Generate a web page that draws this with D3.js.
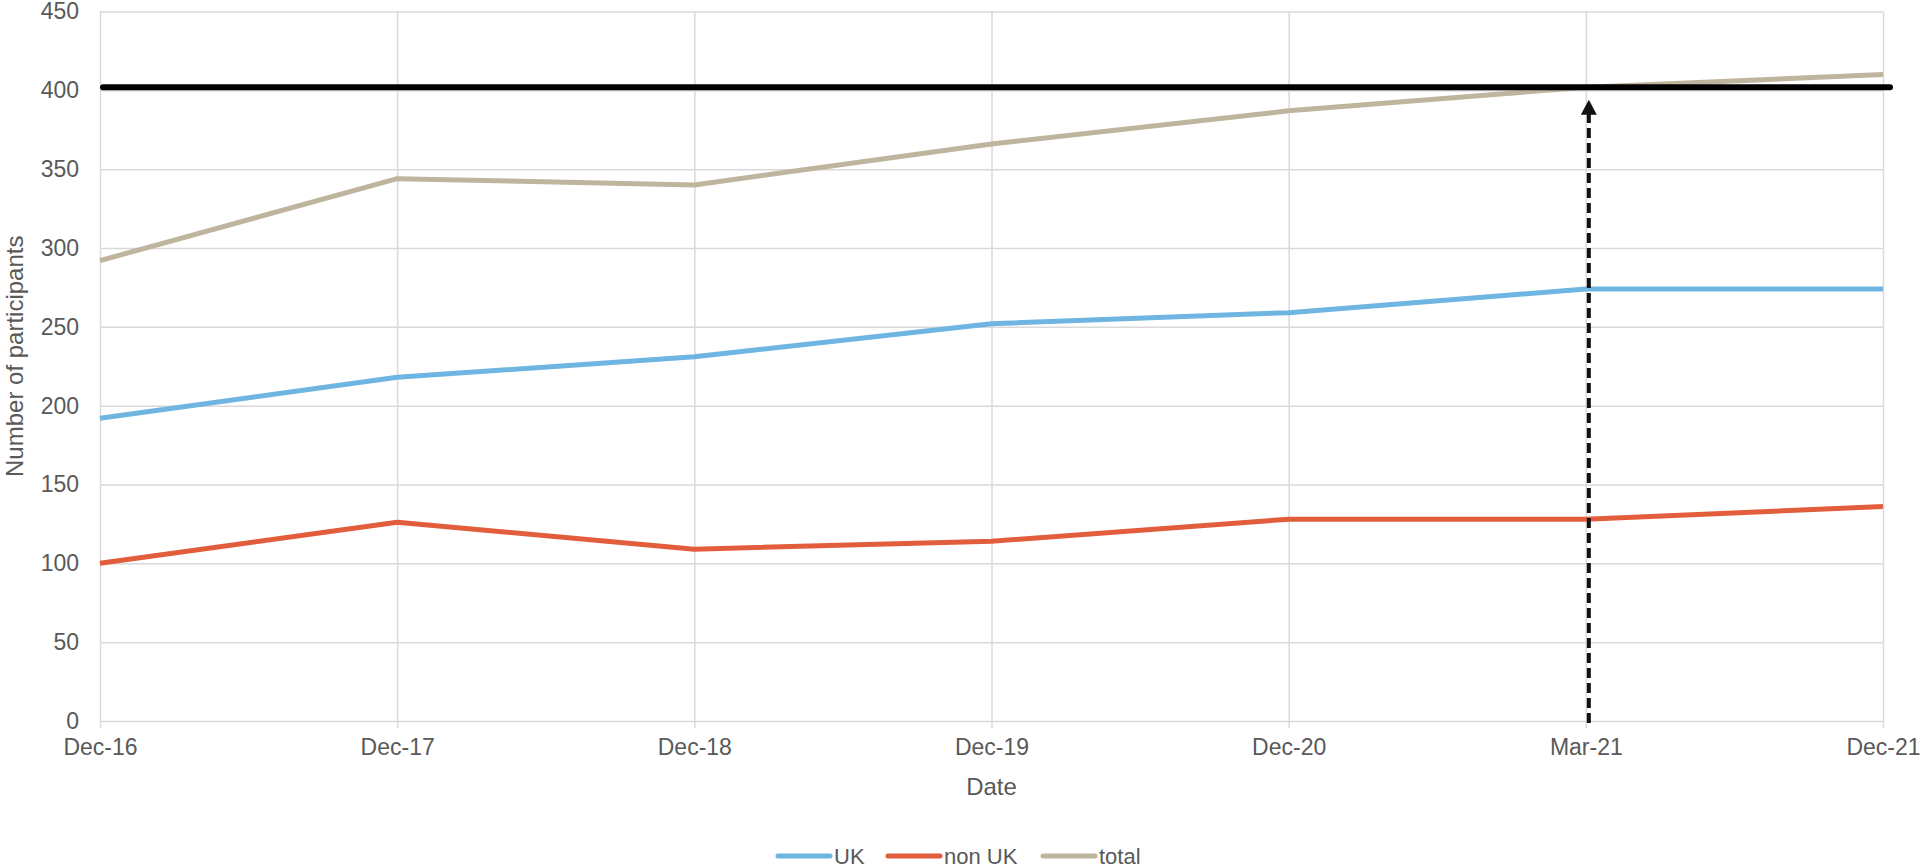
<!DOCTYPE html>
<html>
<head>
<meta charset="utf-8">
<script src="https://cdn.jsdelivr.net/npm/d3@7"></script>
<style>
  html, body { margin: 0; padding: 0; background: #fff; }
  svg { display: block; }
  text { font-family: "Liberation Sans", Arial, sans-serif; fill: #595959; }
</style>
</head>
<body>
<svg id="chart" width="1924" height="868"></svg>
<script>
// ---- data ----
const categories = ["Dec-16", "Dec-17", "Dec-18", "Dec-19", "Dec-20", "Mar-21", "Dec-21"];
const ukValues    = [192, 218, 231, 252, 259, 274, 274];
const nonUkValues = [100, 126, 109, 114, 128, 128, 136];
const totalValues = [292, 344, 340, 366, 387, 402, 410];
const seriesNames = ["UK", "non UK", "total"];
const yTicks = [0, 50, 100, 150, 200, 250, 300, 350, 400, 450];
const targetValue = 402;
const arrowCategory = "Mar-21";
const arrowTopValue = 394;

// ---- layout ----
const svg = d3.select("#chart");
const pLeft = 100, pRight = 1883, pTop = 11.5, pBottom = 721;
const colors = { "UK": "#6fb5e1", "non UK": "#e15d3c", "total": "#bfb59e" };

const x = d3.scalePoint().domain(categories).range([pLeft, pRight]);
const y = d3.scaleLinear().domain([0, 450]).range([pBottom, pTop]);

// horizontal gridlines
svg.append("g")
  .attr("transform", `translate(${pLeft},0)`)
  .call(d3.axisLeft(y).tickValues(yTicks).tickSize(-(pRight - pLeft)).tickFormat(""))
  .call(g => g.select(".domain").remove())
  .call(g => g.selectAll("line").attr("stroke", "#d9d9d9").attr("stroke-width", 1.5));

// vertical gridlines (extend a bit below zero like tick marks)
svg.append("g")
  .attr("transform", `translate(0,${pBottom + 7})`)
  .call(d3.axisBottom(x).tickSize(-(pBottom + 7 - pTop)).tickFormat(""))
  .call(g => g.select(".domain").remove())
  .call(g => g.selectAll("line").attr("stroke", "#d9d9d9").attr("stroke-width", 1.5));

// y tick labels
svg.append("g")
  .attr("transform", `translate(${pLeft},0)`)
  .call(d3.axisLeft(y).tickValues(yTicks).tickSize(0).tickPadding(21))
  .call(g => g.select(".domain").remove())
  .call(g => g.selectAll("text").attr("font-size", 23).attr("fill", "#595959")
    .style("font-family", '"Liberation Sans", Arial, sans-serif'));

// x tick labels
svg.append("g")
  .attr("transform", `translate(0,${pBottom})`)
  .call(d3.axisBottom(x).tickSize(0).tickPadding(18))
  .call(g => g.select(".domain").remove())
  .call(g => g.selectAll("text").attr("font-size", 23).attr("fill", "#595959")
    .style("font-family", '"Liberation Sans", Arial, sans-serif'));

// axis titles
svg.append("text")
  .attr("x", (pLeft + pRight) / 2).attr("y", 795)
  .attr("text-anchor", "middle").attr("font-size", 24)
  .text("Date");
svg.append("text")
  .attr("transform", `translate(23,${(pTop + pBottom) / 2 - 10}) rotate(-90)`)
  .attr("text-anchor", "middle").attr("font-size", 24)
  .text("Number of participants");

// series lines
const seriesData = [
  { name: seriesNames[0], values: ukValues },
  { name: seriesNames[1], values: nonUkValues },
  { name: seriesNames[2], values: totalValues }
];
const line = d3.line().x((d, i) => x(categories[i])).y(d => y(d));
svg.append("g").selectAll("path")
  .data(seriesData)
  .join("path")
  .attr("d", d => line(d.values))
  .attr("fill", "none")
  .attr("stroke", d => colors[d.name])
  .attr("stroke-width", 5)
  .attr("stroke-linejoin", "round");

// target line
svg.append("line")
  .attr("x1", pLeft + 3).attr("x2", pRight + 7)
  .attr("y1", y(targetValue)).attr("y2", y(targetValue))
  .attr("stroke", "#000").attr("stroke-width", 6).attr("stroke-linecap", "round");

// arrow
const ax = x(arrowCategory) + 3;
svg.append("line")
  .attr("x1", ax).attr("x2", ax)
  .attr("y1", y(0) + 2).attr("y2", y(arrowTopValue) + 14)
  .attr("stroke", "#111").attr("stroke-width", 4)
  .attr("stroke-dasharray", "10,5");
svg.append("path")
  .attr("d", `M${ax - 8},${y(arrowTopValue) + 15} L${ax},${y(arrowTopValue)} L${ax + 8},${y(arrowTopValue) + 15} Z`)
  .attr("fill", "#111");

// legend
const legendItems = [
  { name: seriesNames[0], x: 776 },
  { name: seriesNames[1], x: 886 },
  { name: seriesNames[2], x: 1041 }
];
const lg = svg.append("g");
legendItems.forEach(it => {
  lg.append("line")
    .attr("x1", it.x + 2).attr("x2", it.x + 54)
    .attr("y1", 856).attr("y2", 856)
    .attr("stroke", colors[it.name]).attr("stroke-width", 5).attr("stroke-linecap", "round");
  lg.append("text")
    .attr("x", it.x + 58).attr("y", 864)
    .attr("font-size", 22)
    .text(it.name);
});
</script>
</body>
</html>
